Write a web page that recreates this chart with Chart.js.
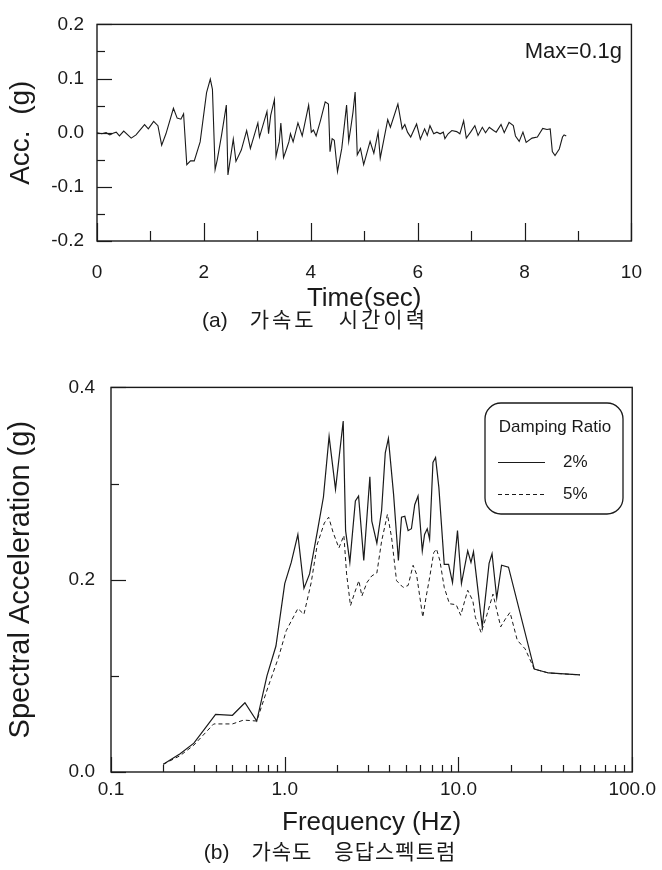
<!DOCTYPE html>
<html>
<head>
<meta charset="utf-8">
<script src="https://cdn.jsdelivr.net/npm/chart.js@4"></script>
<style>
  html, body { margin: 0; padding: 0; background: #fff; }
  body { width: 662px; height: 870px; position: relative; overflow: hidden; }
  .box { position: absolute; left: 0; width: 662px; }
  .cap { position: absolute; transform: translate(-50%, -50%); white-space: nowrap; color: #1a1a1a; }
  .cap .lat { font-family: 'Liberation Sans', Arial, sans-serif; font-size: 21px; }
  .cap .ko { font-family: 'Noto Sans CJK KR', sans-serif; font-size: 21px; letter-spacing: 3px; margin-left: 22px; }
  .cap.b .ko { letter-spacing: 1px; }
</style>
</head>
<body>
<div class="box" style="top:0;height:312px"><canvas id="acc"></canvas></div>
<div class="cap" style="left:315px;top:318px"><span class="lat">(a)</span><span class="ko">가속도</span><span class="ko">시간이력</span></div>
<div class="box" style="top:360px;height:480px"><canvas id="spec"></canvas></div>
<div class="cap b" style="left:330px;top:850px"><span class="lat">(b)</span><span class="ko">가속도</span><span class="ko">응답스펙트럼</span></div>
<script>
// ── (a) acceleration time history ───────────────────────────────────────
const timeSec = [
  0.00, 0.09, 0.17, 0.24, 0.30, 0.36, 0.42, 0.50, 0.64, 0.73, 0.89, 0.96, 1.06, 1.14, 1.21, 1.29,
  1.43, 1.50, 1.57, 1.62, 1.68, 1.75, 1.82, 1.93, 2.05, 2.12, 2.16, 2.21, 2.25, 2.33, 2.42, 2.45,
  2.55, 2.60, 2.70, 2.80, 2.87, 3.01, 3.04, 3.18, 3.21, 3.25, 3.32, 3.35, 3.41, 3.44, 3.49, 3.54,
  3.59, 3.62, 3.67, 3.76, 3.84, 3.96, 4.01, 4.05, 4.10, 4.18, 4.27, 4.33, 4.36, 4.40, 4.44, 4.50,
  4.58, 4.67, 4.71, 4.75, 4.79, 4.83, 4.87, 4.93, 4.99, 5.11, 5.18, 5.26, 5.30, 5.44, 5.49, 5.63,
  5.71, 5.76, 5.81, 5.87, 5.98, 6.05, 6.13, 6.18, 6.23, 6.30, 6.36, 6.42, 6.48, 6.51, 6.57, 6.64,
  6.73, 6.79, 6.86, 6.91, 6.99, 7.07, 7.13, 7.21, 7.27, 7.34, 7.42, 7.47, 7.56, 7.62, 7.71, 7.79,
  7.83, 7.90, 7.97, 8.03, 8.14, 8.24, 8.34, 8.42, 8.48, 8.52, 8.57, 8.65, 8.71, 8.74, 8.78
];
const accG = [
  0.000, -0.002, 0.000, -0.004, -0.001, 0.001, -0.006, 0.003, -0.010, -0.004, 0.015, 0.007, 0.021, 0.013, -0.023, -0.002,
  0.045, 0.027, 0.025, 0.035, -0.059, -0.052, -0.052, -0.017, 0.074, 0.099, 0.080, -0.068, -0.050, -0.005, 0.051, -0.078,
  -0.012, -0.053, -0.032, 0.004, -0.029, 0.018, -0.008, 0.039, -0.002, 0.032, 0.061, -0.044, -0.017, 0.018, -0.046, -0.032,
  -0.017, -0.002, -0.017, 0.018, -0.006, 0.051, 0.001, 0.005, -0.006, 0.022, 0.057, 0.053, -0.035, -0.011, -0.014, -0.072,
  -0.029, 0.051, -0.016, 0.010, 0.038, 0.075, -0.041, -0.029, -0.059, -0.016, -0.038, 0.001, -0.047, 0.024, 0.010, 0.053,
  0.007, 0.015, 0.001, -0.008, 0.016, -0.012, 0.007, -0.005, 0.013, -0.002, 0.001, -0.002, 0.001, -0.011, -0.002, 0.004,
  0.002, -0.002, 0.022, -0.010, 0.001, 0.013, -0.005, 0.010, 0.000, 0.010, 0.004, 0.001, 0.015, 0.000, 0.019, 0.013,
  -0.006, -0.016, 0.001, -0.018, -0.010, -0.008, 0.008, 0.006, 0.007, -0.035, -0.042, -0.030, -0.008, -0.004, -0.006
];
const peakNote = 'Max=0.1g';

// ── (b) response spectra ────────────────────────────────────────────────
const freq2 = [0.20, 0.25, 0.30, 0.40, 0.50, 0.59, 0.69, 0.79, 0.89, 1.00, 1.09, 1.19, 1.29, 1.39, 1.54, 1.67,
  1.80, 1.96, 2.17, 2.24, 2.37, 2.55, 2.66, 2.85, 3.09, 3.17, 3.39, 3.61, 3.79, 3.95, 4.23, 4.51, 4.70, 4.91,
  5.13, 5.36, 5.60, 5.85, 6.19, 6.38, 6.61, 6.82, 7.13, 7.38, 7.71, 8.28, 8.77, 9.24, 9.87, 10.4, 11.3, 11.8,
  12.2, 13.7, 15.0, 15.6, 16.6, 17.7, 19.4, 27.3, 33.0, 50.0];
const sa2 = [0.008, 0.019, 0.030, 0.060, 0.059, 0.072, 0.053, 0.100, 0.131, 0.196, 0.218, 0.247, 0.191, 0.206, 0.250, 0.286,
  0.349, 0.294, 0.365, 0.251, 0.218, 0.282, 0.287, 0.220, 0.307, 0.261, 0.238, 0.272, 0.332, 0.347, 0.289, 0.220, 0.265, 0.266,
  0.251, 0.253, 0.278, 0.287, 0.230, 0.247, 0.253, 0.242, 0.322, 0.327, 0.296, 0.216, 0.216, 0.197, 0.251, 0.196, 0.230, 0.218,
  0.229, 0.151, 0.217, 0.227, 0.181, 0.215, 0.213, 0.107, 0.103, 0.101];
const freq5 = [0.20, 0.25, 0.30, 0.39, 0.50, 0.58, 0.69, 0.80, 0.92, 1.02, 1.19, 1.29, 1.42, 1.54, 1.69, 1.79,
  1.90, 2.05, 2.19, 2.27, 2.39, 2.51, 2.67, 2.78, 2.97, 3.17, 3.39, 3.61, 3.90, 4.12, 4.40, 4.80, 5.13, 5.48,
  5.73, 6.23, 6.51, 6.82, 7.20, 7.47, 7.81, 8.28, 8.87, 9.70, 10.3, 11.3, 12.1, 12.5, 13.5, 14.6, 15.8, 17.5,
  18.6, 19.8, 21.8, 24.2, 26.4, 27.3, 33.0, 50.0];
const sa5 = [0.008, 0.017, 0.028, 0.050, 0.050, 0.054, 0.053, 0.088, 0.119, 0.147, 0.170, 0.164, 0.197, 0.237, 0.259, 0.265,
  0.249, 0.233, 0.246, 0.206, 0.173, 0.185, 0.199, 0.183, 0.197, 0.204, 0.207, 0.240, 0.268, 0.244, 0.199, 0.192, 0.194, 0.215,
  0.206, 0.161, 0.182, 0.202, 0.228, 0.232, 0.220, 0.192, 0.175, 0.174, 0.163, 0.189, 0.178, 0.161, 0.145, 0.164, 0.185, 0.151,
  0.159, 0.166, 0.137, 0.128, 0.113, 0.107, 0.103, 0.101];
const freqTicks = [0.1, 0.2, 0.3, 0.4, 0.5, 0.6, 0.7, 0.8, 0.9, 1, 2, 3, 4, 5, 6, 7, 8, 9,
  10, 20, 30, 40, 50, 60, 70, 80, 90, 100];
const freqLabels = [0.1, 1, 10, 100];
const dampingTitle = 'Damping Ratio';
const dampingLabels = ['2%', '5%'];

const INK = '#1a1a1a';
const FONT = "'Liberation Sans', Arial, sans-serif";
const pts = (xs, ys) => xs.map((x, i) => ({ x, y: ys[i] }));

// frame round the plot area + inward tick marks (long where labelled)
const innerTicks = {
  id: 'innerTicks',
  afterDraw(chart, args, o) {
    const { ctx, chartArea: a } = chart;
    ctx.save();
    ctx.strokeStyle = INK;
    ctx.lineWidth = 1.4;
    ctx.strokeRect(a.left, a.top, a.right - a.left, a.bottom - a.top);
    ctx.lineWidth = 1.2;
    ['x', 'y'].forEach(id => {
      const s = chart.scales[id];
      s.ticks.forEach(t => {
        const p = Math.round(s.getPixelForValue(t.value)) + 0.5;
        const major = t.label !== '';
        ctx.beginPath();
        if (id === 'x') {
          const l = major ? o.xMajor : o.xMinor;
          ctx.moveTo(p, a.bottom); ctx.lineTo(p, a.bottom - l);
        } else {
          const l = major ? o.yMajor : o.yMinor;
          ctx.moveTo(a.left, p); ctx.lineTo(a.left + l, p);
        }
        ctx.stroke();
      });
    });
    ctx.restore();
  }
};

const noteText = {
  id: 'noteText',
  afterDraw(chart) {
    const { ctx } = chart;
    ctx.save();
    ctx.fillStyle = INK;
    ctx.font = '22px ' + FONT;
    ctx.textAlign = 'right';
    ctx.textBaseline = 'middle';
    ctx.fillText(peakNote, 622, 52);
    ctx.restore();
  }
};

// rounded legend box at the upper right of (b)
const dampLegend = {
  id: 'dampLegend',
  afterDraw(chart) {
    const { ctx } = chart;
    ctx.save();
    ctx.strokeStyle = INK;
    ctx.lineWidth = 1.3;
    ctx.beginPath();
    ctx.roundRect(485, 43, 138, 111, 16);
    ctx.stroke();
    ctx.fillStyle = INK;
    ctx.font = '17px ' + FONT;
    ctx.textBaseline = 'middle';
    ctx.textAlign = 'center';
    ctx.fillText(dampingTitle, 555, 67);
    ctx.textAlign = 'left';
    chart.data.datasets.forEach((ds, i) => {
      const y = 102 + i * 32;
      ctx.save();
      ctx.lineWidth = ds.borderWidth;
      ctx.setLineDash(ds.borderDash || []);
      ctx.beginPath();
      ctx.moveTo(498, y + 0.5); ctx.lineTo(545, y + 0.5);
      ctx.stroke();
      ctx.restore();
      ctx.fillText(dampingLabels[i], 563, y);
    });
    ctx.restore();
  }
};

const tickFont = { family: FONT, size: 19 };
const titleFont = (size) => ({ family: FONT, size, lineHeight: 1 });
const noGrid = { display: false, drawTicks: false };

new Chart(document.getElementById('acc'), {
  type: 'line',
  data: {
    datasets: [{
      data: pts(timeSec, accG),
      borderColor: INK, borderWidth: 1.1, pointRadius: 0, tension: 0, fill: false
    }]
  },
  options: {
    responsive: true, maintainAspectRatio: false, animation: false,
    layout: { padding: { top: 20, right: 23, left: 0, bottom: 0 } },
    plugins: { legend: { display: false }, tooltip: { enabled: false },
      innerTicks: { xMajor: 18, xMinor: 10, yMajor: 15, yMinor: 8 } },
    scales: {
      x: {
        type: 'linear', min: 0, max: 10,
        grid: noGrid, border: { display: false },
        ticks: { stepSize: 1, autoSkip: false, maxRotation: 0, padding: 20, color: INK, font: tickFont,
          callback: v => (v % 2 === 0 ? String(v) : '') },
        title: { display: true, text: 'Time(sec)', color: INK, font: titleFont(26), padding: { top: 0, bottom: 0 } },
        afterFit: s => { s.height = 71; }
      },
      y: {
        min: -0.2, max: 0.2,
        grid: noGrid, border: { display: false },
        ticks: { stepSize: 0.05, autoSkip: false, padding: 13, color: INK, font: tickFont,
          callback: v => {
            const r = Math.round(v * 100);
            if (r % 10 !== 0) return '';
            const q = Math.round(v * 10) / 10;
            return (q === 0 ? 0 : q).toFixed(1);
          } },
        title: { display: true, text: 'Acc.  (g)', color: INK, font: titleFont(28), padding: { top: 7, bottom: 0 } },
        afterFit: s => { s.width = 97; }
      }
    }
  },
  plugins: [innerTicks, noteText]
});

new Chart(document.getElementById('spec'), {
  type: 'line',
  data: {
    datasets: [
      { label: dampingLabels[0], data: pts(freq2, sa2), borderColor: INK, borderWidth: 1.2,
        pointRadius: 0, tension: 0, fill: false },
      { label: dampingLabels[1], data: pts(freq5, sa5), borderColor: INK, borderWidth: 1,
        borderDash: [4, 3], pointRadius: 0, tension: 0, fill: false }
    ]
  },
  options: {
    responsive: true, maintainAspectRatio: false, animation: false,
    layout: { padding: { top: 26, right: 24, left: 0, bottom: 0 } },
    plugins: { legend: { display: false }, tooltip: { enabled: false },
      innerTicks: { xMajor: 15, xMinor: 7, yMajor: 15, yMinor: 8 } },
    scales: {
      x: {
        type: 'logarithmic', min: 0.1, max: 100,
        grid: noGrid, border: { display: false },
        afterBuildTicks: s => { s.ticks = freqTicks.map(v => ({ value: v })); },
        ticks: { autoSkip: false, maxRotation: 0, padding: 6, color: INK, font: tickFont,
          callback: v => (freqLabels.includes(v) ? Number(v).toFixed(1) : '') },
        title: { display: true, text: 'Frequency (Hz)', color: INK, font: titleFont(26), padding: { top: 0, bottom: 4 } },
        afterFit: s => { s.height = 68; }
      },
      y: {
        min: 0, max: 0.4,
        grid: noGrid, border: { display: false },
        ticks: { stepSize: 0.1, autoSkip: false, padding: 16, color: INK, font: tickFont,
          callback: v => {
            const r = Math.round(v * 10);
            return r % 2 === 0 ? (r / 10).toFixed(1) : '';
          } },
        title: { display: true, text: 'Spectral Acceleration (g)', color: INK, font: titleFont(29), padding: { top: 6, bottom: 0 } },
        afterFit: s => { s.width = 111; }
      }
    }
  },
  plugins: [innerTicks, dampLegend]
});
</script>
</body>
</html>
